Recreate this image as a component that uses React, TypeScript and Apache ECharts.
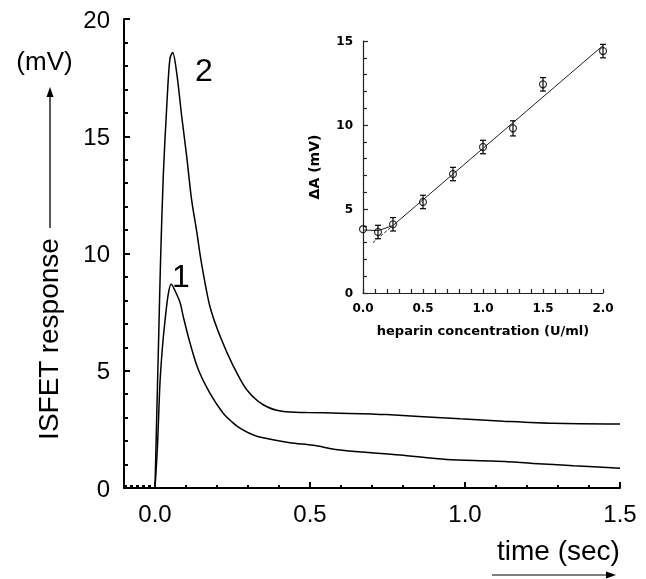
import React, { useEffect, useRef } from "react";
import * as echarts from "echarts";

// Main chart: ISFET response curves (time in sec, response in mV)
const curve1T = [0, 0.008, 0.016, 0.024, 0.032, 0.042, 0.052, 0.065, 0.081, 0.091, 0.113, 0.14, 0.177, 0.22, 0.25, 0.274, 0.31, 0.349, 0.435, 0.51, 0.597, 0.79, 0.941, 1.091, 1.22, 1.35, 1.5];
const curve1V = [0, 1.8, 4.47, 6.0, 7.1, 8.2, 8.7, 8.4, 7.9, 7.32, 6.18, 5.04, 4.05, 3.19, 2.8, 2.55, 2.3, 2.14, 1.93, 1.82, 1.62, 1.41, 1.22, 1.15, 1.05, 0.95, 0.84];
const curve2T = [0, 0.006, 0.012, 0.018, 0.027, 0.038, 0.048, 0.057, 0.07, 0.086, 0.102, 0.118, 0.135, 0.148, 0.177, 0.21, 0.253, 0.296, 0.349, 0.414, 0.489, 0.597, 0.747, 0.984, 1.124, 1.285, 1.5];
const curve2V = [0, 3.3, 6.5, 9.74, 13.4, 16.3, 18.3, 18.57, 17.7, 15.87, 14.16, 12.3, 10.9, 9.74, 7.75, 6.47, 5.19, 4.19, 3.55, 3.26, 3.22, 3.19, 3.13, 2.95, 2.85, 2.76, 2.73];
const baselineT = [-0.1, 0];
const baselineV = [0.08, 0.08];
const mainXMajorTicks = [0, 0.5, 1.0, 1.5];

// Inset: heparin calibration
const hepX = [0, 0.125, 0.25, 0.5, 0.75, 1.0, 1.25, 1.5, 2.0];
const hepY = [3.8, 3.63, 4.09, 5.42, 7.08, 8.69, 9.8, 12.42, 14.4];
const hepErr = [0, 0.4, 0.4, 0.4, 0.4, 0.4, 0.45, 0.4, 0.4];
const solidFitX = [0, 0.13, 0.25, 2.0];
const solidFitY = [3.75, 3.72, 4.02, 14.73];
const dashedFitX = [0.083, 0.25];
const dashedFitY = [3.0, 4.02];

const zip = (a: number[], b: number[]) => a.map((v, i) => [v, b[i]]);
const SANS = "'Liberation Sans', Arial, sans-serif";
const INSET_FONT = "'DejaVu Sans', sans-serif";
const isMajor = (v: number) => Math.abs(v * 2 - Math.round(v * 2)) < 1e-6 && v > -0.05;

// Longer major tick marks on the time axis, placed through the axis scale (api.coord)
function xTickSeries(values: number[], len: number) {
  return {
    type: "custom", xAxisIndex: 0, yAxisIndex: 0, clip: false, silent: true, z: 4,
    data: values.map((v) => [v, 0]),
    encode: { x: 0, y: 1 },
    renderItem: (_p: any, api: any) => {
      const p = api.coord([api.value(0), api.value(1)]);
      return { type: "line", shape: { x1: p[0], y1: p[1], x2: p[0], y2: p[1] - len }, style: { stroke: "#000", lineWidth: 2 } };
    },
  };
}

export default function App() {
  const ref = useRef<HTMLDivElement>(null);
  useEffect(() => {
    if (!ref.current) return;
    const chart = echarts.init(ref.current, null, { renderer: "svg" });
    const mainAxisLine = () => ({ show: true, onZero: false, lineStyle: { color: "#000", width: 2 } });
    const insetAxisLine = () => ({ show: true, onZero: false, lineStyle: { color: "#222", width: 1.2 } });
    const option: any = {
      animation: false,
      grid: [
        { left: 124, right: 26, top: 19, bottom: 91, containLabel: false },
        { left: 363, top: 41, width: 240, height: 252, containLabel: false },
      ],
      xAxis: [
        {
          type: "value", gridIndex: 0, position: "bottom", min: -0.1, max: 1.5, interval: 0.1,
          axisLine: mainAxisLine(),
          axisTick: { show: true, inside: true, length: 3, lineStyle: { color: "#000", width: 2 } },
          axisLabel: { formatter: (v: number) => (isMajor(v) ? v.toFixed(1) : ""), fontSize: 24, color: "#000", fontFamily: SANS, margin: 13 },
          splitLine: { show: false },
        },
        {
          type: "value", gridIndex: 1, min: 0, max: 2, interval: 0.5,
          axisLine: insetAxisLine(),
          axisTick: { show: true, inside: true, length: 4, lineStyle: { color: "#222", width: 1.2 } },
          minorTick: { show: true, splitNumber: 5, length: 4, lineStyle: { color: "#222", width: 1.2 } },
          axisLabel: { formatter: (v: number) => v.toFixed(1), fontSize: 12, fontWeight: "bold", color: "#000", fontFamily: INSET_FONT, margin: 9 },
          splitLine: { show: false },
          name: "heparin concentration (U/ml)", nameLocation: "middle", nameGap: 31,
          nameTextStyle: { fontSize: 13, fontWeight: "bold", color: "#000", fontFamily: INSET_FONT },
        },
      ],
      yAxis: [
        {
          type: "value", gridIndex: 0, min: 0, max: 20, interval: 5,
          axisLine: mainAxisLine(),
          axisTick: { show: true, inside: true, length: 6, lineStyle: { color: "#000", width: 2 } },
          minorTick: { show: true, splitNumber: 5, length: 4, lineStyle: { color: "#000", width: 2 } },
          axisLabel: { fontSize: 24, color: "#000", fontFamily: SANS, margin: 14 },
          splitLine: { show: false },
        },
        {
          type: "value", gridIndex: 1, min: 0, max: 15, interval: 5,
          axisLine: insetAxisLine(),
          axisTick: { show: true, inside: true, length: 5, lineStyle: { color: "#222", width: 1.2 } },
          minorTick: { show: true, splitNumber: 5, length: 4, lineStyle: { color: "#222", width: 1.2 } },
          axisLabel: { fontSize: 12, fontWeight: "bold", color: "#000", fontFamily: INSET_FONT, margin: 10 },
          splitLine: { show: false },
          name: "ΔA (mV)", nameLocation: "middle", nameGap: 42,
          nameTextStyle: { fontSize: 14, fontWeight: "bold", color: "#000", fontFamily: INSET_FONT },
        },
      ],
      series: [
        xTickSeries(mainXMajorTicks, 6),
        {
          type: "line", xAxisIndex: 0, yAxisIndex: 0, data: zip(baselineT, baselineV), showSymbol: false,
          lineStyle: { color: "#000", width: 2, type: [3, 3] },
        },
        {
          type: "line", xAxisIndex: 0, yAxisIndex: 0, data: zip(curve1T, curve1V), showSymbol: false,
          smooth: 0.3, lineStyle: { color: "#000", width: 1.5 },
        },
        {
          type: "line", xAxisIndex: 0, yAxisIndex: 0, data: zip(curve2T, curve2V), showSymbol: false,
          smooth: 0.3, lineStyle: { color: "#000", width: 1.5 },
        },
        {
          type: "line", xAxisIndex: 1, yAxisIndex: 1, data: zip(solidFitX, solidFitY), showSymbol: false,
          lineStyle: { color: "#222", width: 1 },
        },
        {
          type: "line", xAxisIndex: 1, yAxisIndex: 1, data: zip(dashedFitX, dashedFitY), showSymbol: false,
          lineStyle: { color: "#222", width: 1, type: [3, 2] },
        },
        {
          type: "custom", xAxisIndex: 1, yAxisIndex: 1,
          data: hepX.map((x, i) => [x, hepY[i], hepErr[i]]),
          encode: { x: 0, y: 1 },
          renderItem: (params: any, api: any) => {
            const x = api.value(0), y = api.value(1), e = api.value(2);
            if (!e) return null;
            const top = api.coord([x, y + e]);
            const bot = api.coord([x, y - e]);
            const cw = 3;
            const st = { stroke: "#000", lineWidth: 1.2 };
            return {
              type: "group",
              children: [
                { type: "line", shape: { x1: top[0], y1: top[1], x2: bot[0], y2: bot[1] }, style: st },
                { type: "line", shape: { x1: top[0] - cw, y1: top[1], x2: top[0] + cw, y2: top[1] }, style: st },
                { type: "line", shape: { x1: bot[0] - cw, y1: bot[1], x2: bot[0] + cw, y2: bot[1] }, style: st },
              ],
            };
          },
          clip: false,
        },
        {
          type: "scatter", xAxisIndex: 1, yAxisIndex: 1, data: zip(hepX, hepY),
          symbol: "circle", symbolSize: 7, clip: false, z: 5,
          itemStyle: { color: "rgba(0,0,0,0)", borderColor: "#000", borderWidth: 1.2 },
        },
      ],
      graphic: [
        { type: "text", x: 44.5, y: 61, style: { text: "(mV)", font: `26px ${SANS}`, fill: "#000", align: "center", verticalAlign: "middle" } },
        { type: "line", shape: { x1: 50, y1: 228, x2: 50, y2: 95 }, style: { stroke: "#000", lineWidth: 1.3 } },
        { type: "polygon", shape: { points: [[50, 87], [46.5, 97], [53.5, 97]] }, style: { fill: "#000" } },
        { type: "text", x: 48, y: 339, rotation: Math.PI / 2, style: { text: "ISFET response", font: `28px ${SANS}`, fill: "#000", align: "center", verticalAlign: "middle" } },
        { type: "text", x: 558.5, y: 550, style: { text: "time (sec)", font: `28px ${SANS}`, fill: "#000", align: "center", verticalAlign: "middle" } },
        { type: "line", shape: { x1: 492, y1: 575, x2: 607, y2: 575 }, style: { stroke: "#555", lineWidth: 1.5 } },
        { type: "polygon", shape: { points: [[616, 575], [606, 571.5], [606, 578.5]] }, style: { fill: "#000" } },
        { type: "text", x: 204, y: 70, style: { text: "2", font: `32px ${SANS}`, fill: "#000", align: "center", verticalAlign: "middle" } },
        { type: "text", x: 181, y: 276, style: { text: "1", font: `32px ${SANS}`, fill: "#000", align: "center", verticalAlign: "middle" } },
      ],
    };
    chart.setOption(option);
    return () => chart.dispose();
  }, []);
  return <div ref={ref} style={{ position: "fixed", left: 0, top: 0, width: 646, height: 579 }} />;
}
